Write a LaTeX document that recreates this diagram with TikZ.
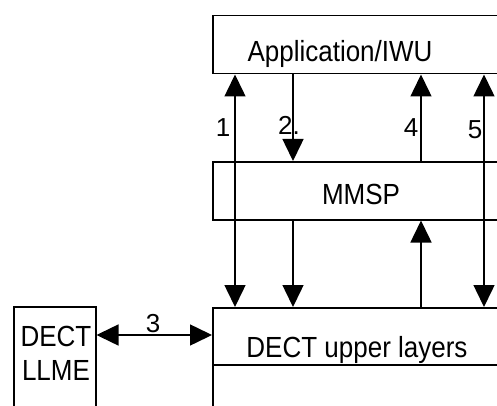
\documentclass[tikz,border=0pt]{standalone}
\usepackage{fontspec}
\setmainfont{Liberation Sans}
\usetikzlibrary{arrows.meta}
\newcommand{\tall}[1]{\scalebox{1}[1.12]{#1}}
\tikzset{
  box/.style={draw, line width=1.5pt, inner sep=0pt, anchor=north west},
  lbl/.style={font=\fontsize{26}{30}\selectfont, anchor=base, inner sep=0pt},
  num/.style={font=\fontsize{26}{30}\selectfont, anchor=base, inner sep=0pt},
  link/.style={line width=1.5pt}
}
\begin{document}
\begin{tikzpicture}[x=1pt, y=-1pt, >={Triangle[width=21pt,length=22pt]}]
		\useasboundingbox (0,0) rectangle (497,406);
		\clip (0,0) rectangle (497,406);
		% layers
		\node[box, minimum width=320pt, minimum height=58pt] (app) at (212,15) {};
		\node[box, minimum width=320pt, minimum height=58pt] (mmsp) at (212,161) {};
		\node[box, minimum width=320pt, minimum height=57pt] (upper) at (212,307) {};
		\node[box, minimum width=320pt, minimum height=70pt] (lower) at (212,364) {};
		\node[box, minimum width=82pt, minimum height=120pt] (llme) at (13,306) {};
		% texts
		\node[lbl] (apptext) at (340,62) {\tall{Application/IWU}};
		\node[lbl] (mmsptext) at (361,204) {\tall{MMSP}};
		\node[lbl] (uppertext) at (357,357) {\tall{DECT upper layers}};
		\node[lbl] (llmetext1) at (56,346) {\tall{DECT}};
		\node[lbl] (llmetext2) at (56,380) {\tall{LLME}};
		% interfaces
		\draw[link, <->] ([xshift=23pt]app.south west) -- ([xshift=23pt]upper.north west);
		\draw[link, ->] ([xshift=81pt]app.south west) -- ([xshift=81pt]mmsp.north west);
		\draw[link, ->] ([xshift=81pt]mmsp.south west) -- ([xshift=81pt]upper.north west);
		\draw[link, ->] ([xshift=209pt]mmsp.north west) -- ([xshift=209pt]app.south west);
		\draw[link, ->] ([xshift=209pt]upper.north west) -- ([xshift=209pt]mmsp.south west);
		\draw[link, <->] ([xshift=272pt]app.south west) -- ([xshift=272pt]upper.north west);
		\draw[link, <->] ([yshift=-29pt]llme.north east) -- ([yshift=-29pt]llme.north east -| upper.west);
		\node[num] (n1) at (223,137) {1};
		\node[num] (n2) at (289,135) {2.};
		\node[num] (n3) at (153,332) {3};
		\node[num] (n4) at (411,137) {4};
		\node[num] (n5) at (475,139) {5};
\end{tikzpicture}
\end{document}
